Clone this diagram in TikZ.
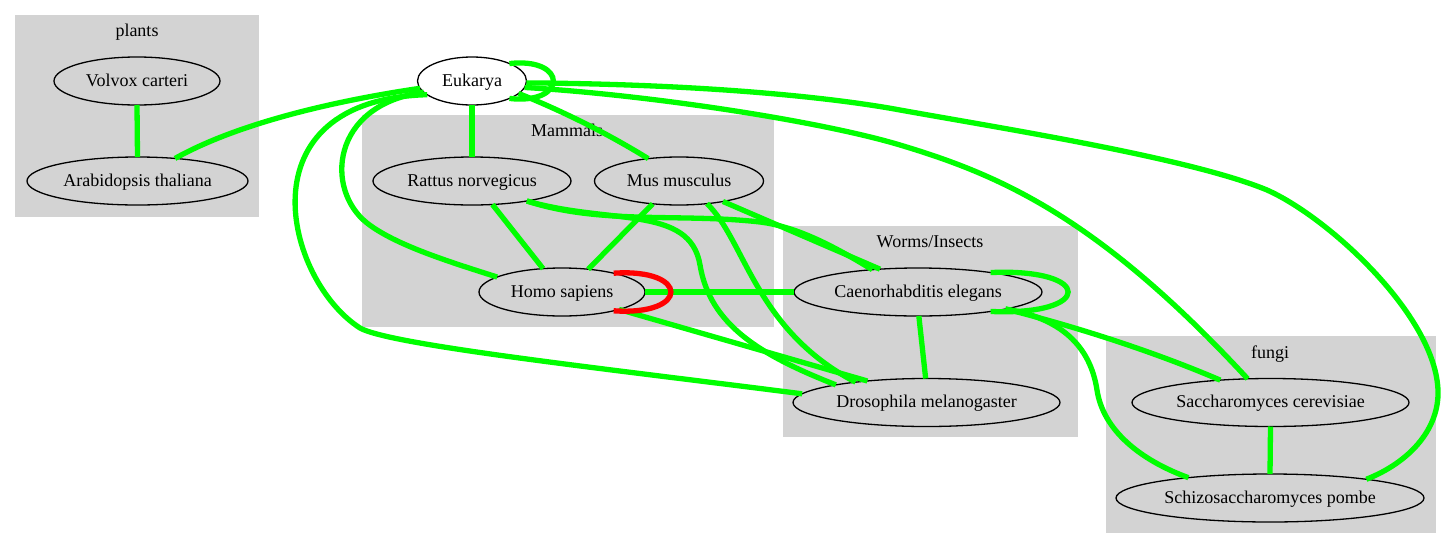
\documentclass[tikz,border=0pt]{standalone}
\usepackage{fontspec}
\setmainfont{Liberation Serif}
\usetikzlibrary{shapes.geometric}
\definecolor{edgegreen}{RGB}{0,255,0}
\definecolor{loopred}{RGB}{255,0,0}
\definecolor{groupgray}{RGB}{211,211,211}
\tikzset{
  taxon/.style={ellipse, draw=black, line width=1.3pt, inner sep=0pt, outer sep=0pt,
    minimum height=48pt, text height=12pt, text depth=2pt},
  group/.style={fill=groupgray},
  grouplabel/.style={anchor=base, inner sep=0pt},
  link/.style={draw=edgegreen, line width=5.3pt},
  redlink/.style={draw=loopred, line width=5.3pt},
}
\begin{document}
\begin{tikzpicture}[x=1pt,y=-1pt,font=\fontsize{18}{21}\selectfont]
  \useasboundingbox (0,0) rectangle (1451,549);
  % clusters
  \fill[group] (15,15) rectangle (259,217);
  \fill[group] (362,115) rectangle (774,327);
  \fill[group] (783,226) rectangle (1078,437);
  \fill[group] (1106,336) rectangle (1436,533);
  \draw (137,36) node[grouplabel] (plantslbl) {plants};
  \draw (567,136) node[grouplabel] (mammalslbl) {Mammals};
  \draw (930,247) node[grouplabel] (wormslbl) {Worms/Insects};
  \draw (1270,358) node[grouplabel] (fungilbl) {fungi};

  % taxa
  \draw (137,81) node[taxon, minimum width=166pt] (volvox) {Volvox carteri};
  \draw (137.5,181) node[taxon, minimum width=221pt] (arab) {Arabidopsis thaliana};
  \draw (472,81) node[taxon, fill=white, minimum width=109pt] (euk) {Eukarya};
  \draw (472,181) node[taxon, minimum width=198pt] (rat) {Rattus norvegicus};
  \draw (679,181) node[taxon, minimum width=169pt] (mus) {Mus musculus};
  \draw (562,292) node[taxon, minimum width=166pt] (homo) {Homo sapiens};
  \draw (918,292) node[taxon, minimum width=248pt] (caeno) {Caenorhabditis elegans};
  \draw (926.5,402.5) node[taxon, minimum width=267pt] (dros) {Drosophila melanogaster};
  \draw (1270.5,402.5) node[taxon, minimum width=277pt] (sacc) {Saccharomyces cerevisiae};
  \draw (1270,498) node[taxon, minimum width=308pt] (pombe) {Schizosaccharomyces pombe};

  % straight links
  \path[link] (volvox.south) edge (arab.north);
  \path[link] (euk.south) edge (rat.north);
  \path[link] (rat.-49) edge (homo.129);
  \path[link] (mus.221) edge (homo.41);
  \path[link] (mus.-25) edge (caeno.149);
  \path[link] (homo.east) edge (caeno.west);
  \path[link] (homo.-17) edge (dros.160);
  \path[link] (caeno.-88) edge (dros.92);
  \path[link] (sacc.south) edge (pombe.north);

  % curved links
  \draw[link] (euk.188) .. controls (340,100) and (240,122) .. (arab.31);
  \draw[link] (euk.25) .. controls (568,57) and (568,105) .. (euk.-25);
  \draw[link] (euk.-15) .. controls (565,112) and (610,135) .. (mus.144);
  \draw[link] (euk.193) .. controls (330,105) and (325,190) .. (367,223)
                        .. controls (395,245) and (450,262) .. (homo.167);
  \draw[link] (euk.197) .. controls (240,100) and (285,280) .. (360,328)
                        .. controls (390,345) and (600,368) .. (dros.176);
  \draw[link] (euk.-7) .. controls (650,95) and (820,121) .. (900,145)
                       .. controls (1000,175) and (1098,217) .. (sacc.134);
  \draw[link] (euk.-2) .. controls (700,84) and (830,97) .. (900,110)
                       .. controls (1000,128) and (1190,158) .. (1267,190)
                       .. controls (1330,218) and (1440,320) .. (1438,395)
                       .. controls (1437,430) and (1410,462) .. (pombe.11);
  \draw[link] (rat.-20) .. controls (600,225) and (680,213) .. (760,222)
                        .. controls (800,227) and (840,250) .. (caeno.154);
  \draw[link] (rat.-20) .. controls (610,225) and (690,205) .. (700,265)
                        .. controls (710,325) and (760,355) .. (dros.169);
  \draw[link] (mus.-39) .. controls (745,240) and (755,330) .. (dros.164);
  \draw[link] (caeno.15) .. controls (1094,268) and (1094,316) .. (caeno.-15);
  \draw[link] (caeno.-11) .. controls (1070,325) and (1150,350) .. (sacc.156);
  \draw[link] (caeno.-11) .. controls (1060,318) and (1090,345) .. (1097,390)
                          .. controls (1103,430) and (1140,460) .. (pombe.166);
  \draw[redlink] (homo.20) .. controls (690,268) and (690,316) .. (homo.-20);
\end{tikzpicture}
\end{document}
